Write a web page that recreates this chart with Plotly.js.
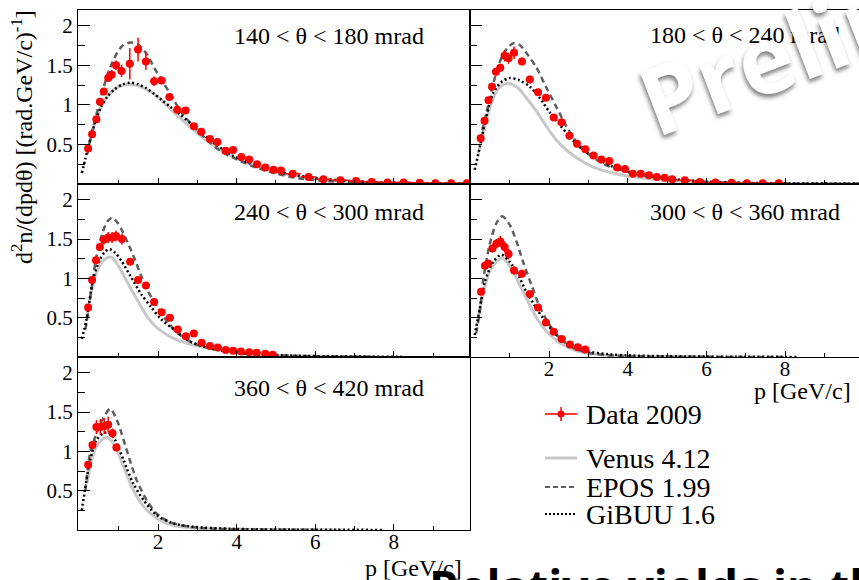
<!DOCTYPE html>
<html><head><meta charset="utf-8">
<script src="https://cdn.plot.ly/plotly-3.0.1.min.js"></script>
<style>html,body{margin:0;padding:0;background:#fff}</style>
</head><body><div id="chart" style="width:859px;height:580px"></div>
<script>
// ---------- data ----------
const panelLabels = ["140 &lt; θ &lt; 180 mrad", "180 &lt; θ &lt; 240 mrad", "240 &lt; θ &lt; 300 mrad", "300 &lt; θ &lt; 360 mrad", "360 &lt; θ &lt; 420 mrad"];
const legendNames = ["Data 2009", "Venus 4.12", "EPOS 1.99", "GiBUU 1.6"];
const xTickVals = [2, 4, 6, 8];
const xMinorVals = [1, 3, 5, 7, 9];
const yTickVals = [0.5, 1, 1.5, 2];
const yMinorVals = [0.25, 0.75, 1.25, 1.75];

// panel 1: 140-180 mrad
const d1_p = [0.22,0.32,0.43,0.52,0.62,0.73,0.82,0.93,1.07,1.28,1.49,1.69,1.90,2.09,2.29,2.49,2.70,2.91,3.10,3.32,3.51,3.72,3.91,4.12,4.32,4.52,4.73,4.94,5.13,5.43,5.83,6.21,6.64,7.04,7.44,7.84,8.25,8.66,9.06,9.46,9.86];
const d1_v = [0.45,0.63,0.82,1.04,1.17,1.34,1.38,1.50,1.43,1.52,1.70,1.55,1.30,1.31,1.10,0.94,0.93,0.73,0.66,0.57,0.53,0.42,0.43,0.34,0.31,0.25,0.21,0.18,0.17,0.13,0.09,0.06,0.047,0.038,0.025,0.02,0.02,0.015,0.01,0.01,0.008];
const d1_ey = [0.03,0.03,0.03,0.04,0.04,0.05,0.06,0.06,0.08,0.20,0.15,0.11,0.06,0.05,0.04,0.03,0.03,0.03,0.02,0.02,0.02,0.02,0.02,0.02,0.02,0.02,0.02,0.02,0.02,0.01,0.01,0.01,0.01,0.01,0.01,0.01,0.01,0.01,0.01,0.01,0.01];
const d1_ex = [0.05,0.05,0.05,0.05,0.05,0.05,0.05,0.05,0.1,0.1,0.1,0.1,0.1,0.1,0.1,0.1,0.1,0.1,0.1,0.1,0.1,0.1,0.1,0.1,0.1,0.1,0.1,0.1,0.1,0.2,0.2,0.2,0.2,0.2,0.2,0.2,0.2,0.2,0.2,0.2,0.2];
const venus1_p = [0.2,0.4,0.6,0.8,1.0,1.3,1.6,1.8,2.0,2.5,3.0,3.5,4.0,4.5,5.0,5.5,6.0,7.0,8.0,9.0,9.9];
const venus1_v = [0.40,0.78,1.02,1.16,1.23,1.26,1.22,1.17,1.10,0.86,0.645,0.46,0.32,0.225,0.15,0.10,0.065,0.028,0.012,0.005,0.002];
const epos1_p = [0.2,0.3,0.45,0.6,0.77,0.95,1.1,1.3,1.5,1.7,1.97,2.3,2.6,2.9,3.24,3.58,3.92,4.43,4.94,5.6,6.5,7.5,8.5,9.9];
const epos1_v = [0.38,0.62,0.92,1.20,1.46,1.65,1.75,1.79,1.76,1.65,1.41,1.15,0.90,0.73,0.56,0.42,0.33,0.22,0.14,0.07,0.03,0.012,0.005,0.002];
const gibuu1_p = [0.06,0.15,0.25,0.4,0.55,0.7,0.9,1.1,1.3,1.5,1.7,1.9,2.1,2.3,2.56,3.0,3.5,3.9,4.5,5.2,6.0,7.0,8.0,9.0,9.9];
const gibuu1_v = [0.14,0.32,0.52,0.78,0.98,1.10,1.20,1.26,1.28,1.26,1.21,1.14,1.06,0.98,0.88,0.69,0.49,0.36,0.23,0.14,0.075,0.033,0.015,0.007,0.003];

// panel 2: 180-240 mrad
const d2_p = [0.26,0.36,0.46,0.55,0.65,0.76,0.87,0.97,1.11,1.31,1.51,1.72,1.92,2.12,2.32,2.52,2.71,2.92,3.13,3.33,3.53,3.73,3.93,4.13,4.33,4.54,4.74,4.94,5.13,5.45,5.83,6.23,6.64,7.03,7.43,7.84];
const d2_v = [0.58,0.80,1.06,1.23,1.42,1.47,1.62,1.59,1.66,1.55,1.32,1.16,1.09,0.84,0.78,0.61,0.51,0.44,0.36,0.31,0.29,0.21,0.19,0.13,0.13,0.11,0.09,0.08,0.06,0.047,0.025,0.02,0.015,0.01,0.01,0.008];
const d2_ey = [0.03,0.03,0.04,0.04,0.05,0.05,0.07,0.07,0.08,0.05,0.05,0.04,0.04,0.03,0.03,0.03,0.02,0.02,0.02,0.02,0.02,0.02,0.02,0.02,0.02,0.02,0.02,0.02,0.02,0.01,0.01,0.01,0.01,0.01,0.01,0.01];
const d2_ex = [0.05,0.05,0.05,0.05,0.05,0.05,0.05,0.05,0.1,0.1,0.1,0.1,0.1,0.1,0.1,0.1,0.1,0.1,0.1,0.1,0.1,0.1,0.1,0.1,0.1,0.1,0.1,0.1,0.1,0.2,0.2,0.2,0.2,0.2,0.2,0.2];
const venus2_p = [0.2,0.35,0.49,0.7,0.85,0.98,1.2,1.42,1.68,1.93,2.18,2.44,2.77,3.19,3.70,4.37,5.0,6.0,7.0,8.0,9.9];
const venus2_v = [0.38,0.68,0.96,1.20,1.26,1.27,1.22,1.09,0.92,0.73,0.56,0.43,0.31,0.20,0.13,0.075,0.045,0.022,0.01,0.005,0.002];
const epos2_p = [0.25,0.32,0.41,0.5,0.66,0.83,1.0,1.1,1.25,1.42,1.68,1.93,2.18,2.44,2.69,3.03,3.36,3.78,4.37,5.05,6.0,7.0,8.0,9.9];
const epos2_v = [0.55,0.72,0.90,1.10,1.41,1.64,1.75,1.78,1.76,1.66,1.47,1.22,0.98,0.73,0.54,0.37,0.26,0.18,0.11,0.06,0.028,0.012,0.005,0.002];
const gibuu2_p = [0.11,0.24,0.41,0.58,0.79,1.0,1.25,1.51,1.76,2.01,2.27,2.52,2.86,3.19,3.62,4.21,4.96,6.0,7.0,8.0,9.9];
const gibuu2_v = [0.18,0.47,0.86,1.15,1.29,1.34,1.31,1.23,1.09,0.91,0.75,0.60,0.43,0.33,0.22,0.13,0.07,0.03,0.015,0.008,0.003];

// panel 3: 240-300 mrad
const d3_p = [0.22,0.32,0.42,0.52,0.62,0.73,0.83,0.93,1.08,1.29,1.49,1.69,1.90,2.09,2.30,2.50,2.71,2.91,3.11,3.32,3.52,3.72,3.91,4.11,4.32,4.51,4.73,4.92];
const d3_v = [0.63,0.98,1.23,1.40,1.49,1.52,1.52,1.54,1.50,1.21,0.98,0.91,0.70,0.57,0.50,0.35,0.265,0.30,0.18,0.14,0.12,0.09,0.08,0.07,0.06,0.055,0.04,0.03];
const d3_ey = [0.03,0.03,0.04,0.05,0.06,0.07,0.07,0.07,0.07,0.04,0.03,0.03,0.03,0.03,0.03,0.02,0.02,0.02,0.02,0.02,0.02,0.02,0.02,0.02,0.02,0.02,0.02,0.02];
const d3_ex = [0.05,0.05,0.05,0.05,0.05,0.05,0.05,0.05,0.1,0.1,0.1,0.1,0.1,0.1,0.1,0.1,0.1,0.1,0.1,0.1,0.1,0.1,0.1,0.1,0.1,0.1,0.1,0.1];
const venus3_p = [0.2,0.3,0.39,0.56,0.7,0.81,0.95,1.07,1.24,1.49,1.74,2.0,2.34,2.76,3.36,3.95,4.8,5.8,6.8,7.5];
const venus3_v = [0.55,0.82,1.01,1.20,1.26,1.27,1.19,1.09,0.93,0.71,0.50,0.36,0.25,0.17,0.105,0.063,0.03,0.012,0.005,0.002];
const epos3_p = [0.15,0.22,0.3,0.44,0.6,0.72,0.83,0.95,1.07,1.24,1.41,1.57,1.74,2.0,2.25,2.51,2.93,3.53,4.09,4.77,5.5,6.5,7.5];
const epos3_v = [0.35,0.57,0.85,1.30,1.60,1.73,1.77,1.72,1.62,1.44,1.24,1.03,0.84,0.62,0.44,0.30,0.17,0.09,0.05,0.028,0.014,0.006,0.003];
const gibuu3_p = [0.06,0.18,0.35,0.52,0.65,0.77,0.9,1.07,1.32,1.57,1.83,2.08,2.43,2.76,3.19,3.78,4.5,5.5,6.5,7.5,8.2];
const gibuu3_v = [0.23,0.48,0.99,1.24,1.34,1.37,1.33,1.22,1.01,0.80,0.63,0.48,0.34,0.21,0.126,0.07,0.035,0.016,0.008,0.004,0.002];

// panel 4: 300-360 mrad
const d4_p = [0.27,0.37,0.45,0.56,0.66,0.76,0.87,0.97,1.11,1.31,1.51,1.72,1.92,2.12,2.32,2.53,2.73,2.92];
const d4_v = [0.83,1.16,1.19,1.38,1.44,1.47,1.40,1.31,1.10,1.06,0.80,0.63,0.44,0.32,0.23,0.16,0.125,0.095];
const d4_ey = [0.03,0.04,0.04,0.05,0.06,0.07,0.07,0.07,0.05,0.05,0.04,0.04,0.03,0.03,0.02,0.02,0.02,0.02];
const d4_ex = [0.05,0.05,0.05,0.05,0.05,0.05,0.05,0.05,0.1,0.1,0.1,0.1,0.1,0.1,0.1,0.1,0.1,0.1];
const venus4_p = [0.2,0.32,0.49,0.66,0.81,1.04,1.25,1.46,1.68,1.93,2.27,2.69,3.2,4.0,5.0,6.0];
const venus4_v = [0.50,0.79,1.09,1.21,1.26,1.13,0.92,0.71,0.50,0.33,0.18,0.08,0.035,0.012,0.005,0.002];
const epos4_p = [0.15,0.25,0.32,0.49,0.66,0.81,1.0,1.17,1.34,1.55,1.76,2.01,2.27,2.6,3.03,3.5,4.2,5.0,6.0,8.0];
const epos4_v = [0.30,0.62,0.96,1.43,1.70,1.79,1.68,1.47,1.21,0.92,0.64,0.41,0.24,0.12,0.05,0.022,0.01,0.005,0.002,0.001];
const gibuu4_p = [0.11,0.24,0.37,0.58,0.79,1.0,1.21,1.42,1.68,1.93,2.18,2.52,2.94,3.5,4.0,5.0,6.0,7.0,8.3];
const gibuu4_v = [0.28,0.62,0.96,1.21,1.30,1.21,1.05,0.83,0.62,0.43,0.285,0.16,0.075,0.035,0.02,0.01,0.005,0.003,0.001];

// panel 5: 360-420 mrad
const d5_p = [0.22,0.33,0.43,0.53,0.63,0.73,0.84,0.94];
const d5_v = [0.83,1.08,1.31,1.31,1.32,1.34,1.23,1.05];
const d5_ey = [0.04,0.05,0.09,0.10,0.10,0.10,0.06,0.05];
const d5_ex = [0.05,0.05,0.05,0.05,0.05,0.05,0.05,0.05];
const venus5_p = [0.2,0.3,0.45,0.6,0.69,0.8,0.95,1.12,1.37,1.63,1.96,2.38,3.05,4.0,5.0,6.76];
const venus5_v = [0.60,0.88,1.08,1.16,1.18,1.14,1.02,0.81,0.51,0.30,0.15,0.06,0.02,0.008,0.004,0.001];
const epos5_p = [0.15,0.27,0.39,0.56,0.78,0.95,1.12,1.28,1.45,1.71,1.96,2.30,2.82,3.5,4.5,5.5,6.0];
const epos5_v = [0.50,0.98,1.17,1.38,1.54,1.40,1.15,0.89,0.64,0.38,0.21,0.10,0.04,0.015,0.006,0.003,0.002];
const gibuu5_p = [0.06,0.14,0.27,0.44,0.61,0.73,0.9,1.12,1.37,1.63,1.96,2.38,2.9,3.9,5.0,6.5,7.7];
const gibuu5_v = [0.25,0.51,0.89,1.15,1.23,1.24,1.15,0.89,0.59,0.38,0.19,0.085,0.04,0.015,0.006,0.003,0.001];

// ---------- styles ----------
const W = 859, H = 580;
const SERIF = "Liberation Serif, Times New Roman, serif";
const venusStyle = {color: "#c8c8c8", width: 3};
const eposStyle = {color: "#5e5e5e", width: 2.5, dash: "6px,4px"};
const gibuuStyle = {color: "#000000", width: 2.5, dash: "2px,2.6px"};
const dataColor = "#ff0000";

function px(x) { return x / W; }
function py(y) { return 1 - y / H; }

const panels = [
  {xa: "x",  ya: "y",  d: [d1_p, d1_v, d1_ey, d1_ex], ve: [venus1_p, venus1_v], ep: [epos1_p, epos1_v], gi: [gibuu1_p, gibuu1_v]},
  {xa: "x2", ya: "y2", d: [d2_p, d2_v, d2_ey, d2_ex], ve: [venus2_p, venus2_v], ep: [epos2_p, epos2_v], gi: [gibuu2_p, gibuu2_v]},
  {xa: "x3", ya: "y3", d: [d3_p, d3_v, d3_ey, d3_ex], ve: [venus3_p, venus3_v], ep: [epos3_p, epos3_v], gi: [gibuu3_p, gibuu3_v]},
  {xa: "x4", ya: "y4", d: [d4_p, d4_v, d4_ey, d4_ex], ve: [venus4_p, venus4_v], ep: [epos4_p, epos4_v], gi: [gibuu4_p, gibuu4_v]},
  {xa: "x5", ya: "y5", d: [d5_p, d5_v, d5_ey, d5_ex], ve: [venus5_p, venus5_v], ep: [epos5_p, epos5_v], gi: [gibuu5_p, gibuu5_v]}
];

const traces = [];
panels.forEach(pn => {
  const curve = (arr, style, name) => ({
    type: "scatter", mode: "lines", name: name, x: arr[0], y: arr[1],
    xaxis: pn.xa, yaxis: pn.ya, showlegend: false, hoverinfo: "skip",
    line: Object.assign({shape: "spline", smoothing: 0.8}, style)
  });
  traces.push(curve(pn.ve, venusStyle, legendNames[1]));
  traces.push(curve(pn.ep, eposStyle, legendNames[2]));
  traces.push(curve(pn.gi, gibuuStyle, legendNames[3]));
  traces.push({
    type: "scatter", mode: "markers", name: legendNames[0], x: pn.d[0], y: pn.d[1],
    xaxis: pn.xa, yaxis: pn.ya, showlegend: false,
    marker: {color: dataColor, size: 8, line: {width: 0}},
    error_y: {type: "data", array: pn.d[2], visible: true, color: dataColor, thickness: 1.5, width: 0},
    error_x: {type: "data", array: pn.d[3], visible: true, color: dataColor, thickness: 1.5, width: 0}
  });
});

const colL = [px(78), px(470)], colR = [px(470), 1];
const row1 = [py(184), py(10)], row2 = [py(357), py(184)], row3 = [py(530), py(357)];
const rangeL = [-0.038, 9.94], rangeR = [-0.01, 9.88];

function xAxis(domain, range, anchor, labels) {
  return {
    domain: domain, range: range, anchor: anchor, showline: true, linecolor: "black", linewidth: 1, mirror: true,
    ticks: "inside", ticklen: 6, tickwidth: 1, tickcolor: "black", tickmode: "array", tickvals: xTickVals,
    minor: {tickmode: "array", tickvals: xMinorVals, ticks: "inside", ticklen: 4, tickwidth: 1, tickcolor: "black"},
    showticklabels: labels, ticklabelstandoff: -7, showgrid: false, zeroline: false, fixedrange: true,
    tickfont: {family: SERIF, size: 21, color: "black"}
  };
}
function yAxis(domain, anchor, labels, mirror) {
  return {
    domain: domain, range: [0, 2.2], anchor: anchor, showline: true, linecolor: "black", linewidth: 1, mirror: mirror,
    ticks: "inside", ticklen: 12, tickwidth: 1, tickcolor: "black", tickmode: "array", tickvals: yTickVals,
    minor: {tickmode: "array", tickvals: yMinorVals, ticks: "inside", ticklen: 7, tickwidth: 1, tickcolor: "black"},
    showticklabels: labels, showgrid: false, zeroline: false, fixedrange: true,
    tickfont: {family: SERIF, size: 21, color: "black"}
  };
}

const labelFont = {family: SERIF, size: 24, color: "black"};
const legFont = {family: SERIF, size: 28, color: "black"};
const annotations = [
  {text: panelLabels[0], x: px(232), y: py(36), xanchor: "left", yanchor: "middle"},
  {text: panelLabels[1], x: px(648), y: py(35), xanchor: "left", yanchor: "middle"},
  {text: panelLabels[2], x: px(232), y: py(212), xanchor: "left", yanchor: "middle"},
  {text: panelLabels[3], x: px(648), y: py(212), xanchor: "left", yanchor: "middle"},
  {text: panelLabels[4], x: px(232), y: py(388), xanchor: "left", yanchor: "middle"},
  {text: "p [GeV/c]", x: px(464), y: py(568), xanchor: "right", yanchor: "middle"},
  {text: "p [GeV/c]", x: px(853), y: py(391), xanchor: "right", yanchor: "middle"},
  {text: "d<sup>2</sup>n/(dpdθ) [(rad.GeV/c)<sup>-1</sup>]", x: px(22), y: py(137), xanchor: "center", yanchor: "middle", textangle: -90}
].map(a => Object.assign({xref: "paper", yref: "paper", showarrow: false, font: labelFont}, a));

const legY = [414, 458, 487, 514];
legendNames.forEach((n, i) => annotations.push({
  text: n, x: px(584), y: py(legY[i]), xref: "paper", yref: "paper", xanchor: "left", yanchor: "middle",
  showarrow: false, font: legFont
}));

// watermark and cut-off caption
annotations.push({
  text: "Preliminary", x: px(900), y: py(6), xref: "paper", yref: "paper", xanchor: "center", yanchor: "middle",
  textangle: -21, showarrow: false,
  font: {family: "Open Sans, sans-serif", size: 94, weight: 700, color: "#ffffff", shadow: "-2px 3px 4px rgba(0,0,0,0.5)"}
});
annotations.push({
  text: "Relative yields in the", x: px(427), y: py(553), xref: "paper", yref: "paper", xanchor: "left", yanchor: "top",
  showarrow: false, font: {family: "Open Sans, sans-serif", size: 46, color: "#000000", weight: 700}
});

const shapes = [
  {type: "line", x0: px(545), x1: px(577), y0: py(414), y1: py(414), line: {color: dataColor, width: 1.5}},
  {type: "line", x0: px(561), x1: px(561), y0: py(407), y1: py(421), line: {color: dataColor, width: 1.5}},
  {type: "circle", x0: px(557.5), x1: px(564.5), y0: py(410.5), y1: py(417.5), fillcolor: dataColor, line: {color: dataColor, width: 0}},
  {type: "line", x0: px(545), x1: px(577), y0: py(458), y1: py(458), line: {color: venusStyle.color, width: 3}},
  {type: "line", x0: px(545), x1: px(577), y0: py(487), y1: py(487), line: {color: eposStyle.color, width: 2, dash: "5px,3px"}},
  {type: "line", x0: px(545), x1: px(577), y0: py(514), y1: py(514), line: {color: "#000", width: 2, dash: "2px,2px"}}
].map(s => Object.assign({xref: "paper", yref: "paper"}, s));

const layout = {
  width: W, height: H, margin: {l: 0, r: 0, t: 0, b: 0},
  paper_bgcolor: "#ffffff", plot_bgcolor: "rgba(0,0,0,0)", showlegend: false,
  font: {family: SERIF, color: "black"},
  xaxis: xAxis(colL, rangeL, "y", false),
  yaxis: yAxis(row1, "x", true, true),
  xaxis2: xAxis(colR, rangeR, "y2", false),
  yaxis2: yAxis(row1, "x2", false, false),
  xaxis3: xAxis(colL, rangeL, "y3", false),
  yaxis3: yAxis(row2, "x3", true, true),
  xaxis4: xAxis(colR, rangeR, "y4", true),
  yaxis4: yAxis(row2, "x4", false, false),
  xaxis5: xAxis(colL, rangeL, "y5", true),
  yaxis5: yAxis(row3, "x5", true, true),
  annotations: annotations, shapes: shapes
};

Plotly.newPlot("chart", traces, layout, {displayModeBar: false, staticPlot: true});
</script>
</body></html>
